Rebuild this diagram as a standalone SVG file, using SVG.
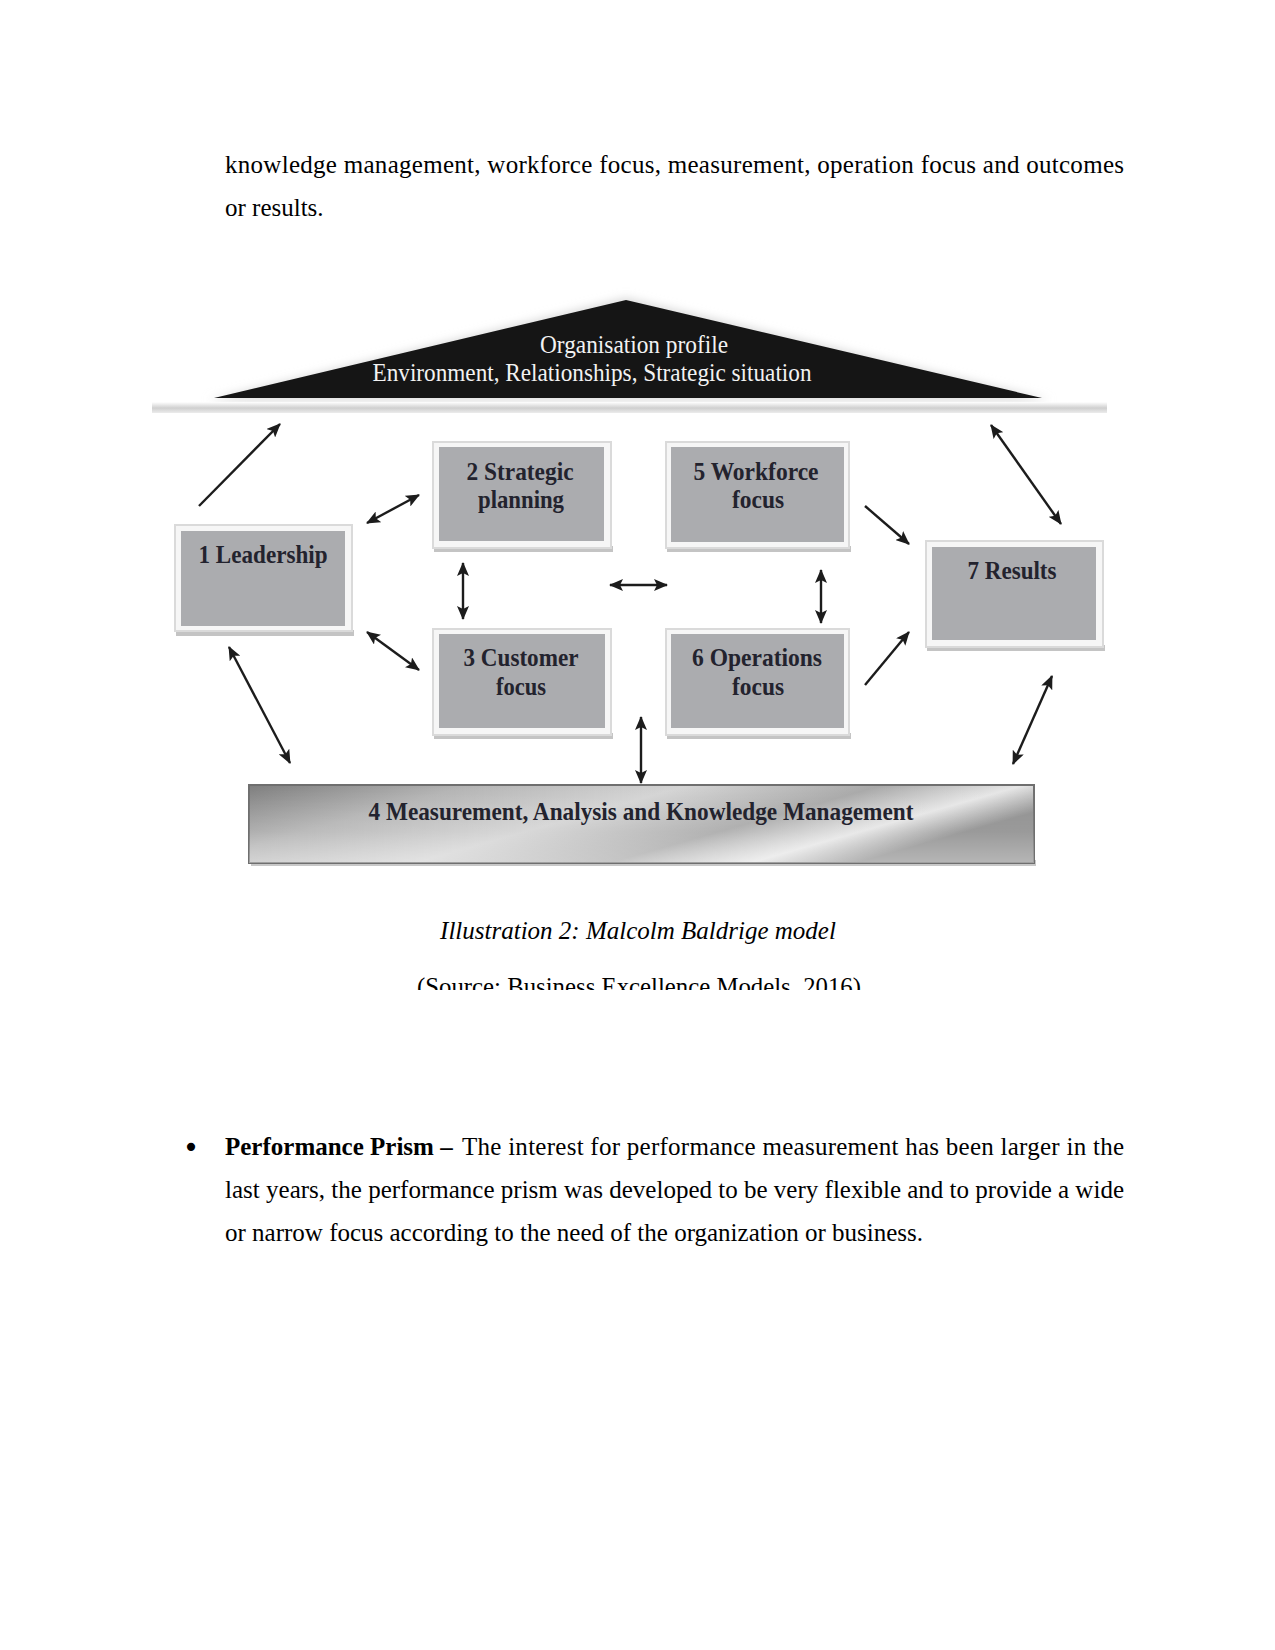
<svg xmlns="http://www.w3.org/2000/svg" width="1275" height="1650" viewBox="0 0 1275 1650">
<defs>
<style>
.body{font-family:"Liberation Serif","Times New Roman",serif;font-size:25px;fill:#000}
.lbl{font-family:"Liberation Serif","Times New Roman",serif;font-size:26px;font-weight:bold;fill:#23232e;text-anchor:middle}
.roof{font-family:"Liberation Serif","Times New Roman",serif;font-size:25px;fill:#f2f2f2;text-anchor:middle}
.frame{fill:#f6f6f6;stroke:#dadada;stroke-width:2}
.inner{fill:#abacaf}
.shadow{fill:#c4c4c4}
.conn line{stroke:#1c1c1c;stroke-width:2.4}
</style>
<marker id="ah" viewBox="0 0 14 12" refX="13" refY="6" markerWidth="14" markerHeight="12" markerUnits="userSpaceOnUse" orient="auto-start-reverse">
<path d="M0,0 L14,6 L0,12 L3,6 Z" fill="#1c1c1c"/>
</marker>
<linearGradient id="barg" x1="0" y1="0" x2="1" y2="0.35">
<stop offset="0" stop-color="#7e7e7e"/>
<stop offset="0.25" stop-color="#b4b4b4"/>
<stop offset="0.5" stop-color="#d4d4d4"/>
<stop offset="0.72" stop-color="#a9a9a9"/>
<stop offset="0.88" stop-color="#e6e6e6"/>
<stop offset="1" stop-color="#8f8f8f"/>
</linearGradient>
<linearGradient id="barv" x1="0" y1="0" x2="0" y2="1">
<stop offset="0" stop-color="#ffffff" stop-opacity="0"/>
<stop offset="0.6" stop-color="#ffffff" stop-opacity="0.1"/>
<stop offset="1" stop-color="#ffffff" stop-opacity="0.35"/>
</linearGradient>
<linearGradient id="ground" x1="0" y1="0" x2="0" y2="1">
<stop offset="0" stop-color="#ffffff"/>
<stop offset="0.55" stop-color="#cfcfcf"/>
<stop offset="1" stop-color="#ececec"/>
</linearGradient>
<filter id="blur" x="-10%" y="-30%" width="120%" height="160%">
<feGaussianBlur stdDeviation="5"/>
</filter>
<clipPath id="srcclip"><rect x="0" y="960" width="1275" height="30"/></clipPath>
</defs>
<rect width="1275" height="1650" fill="#ffffff"/>

<text class="body" x="225" y="173" textLength="899" lengthAdjust="spacing">knowledge management, workforce focus, measurement, operation focus and outcomes</text>
<text class="body" x="225" y="216">or results.</text>

<g id="organisation-profile">
<path d="M626,298 L208,400 L1050,400 Z" fill="#d8d8d8" filter="url(#blur)"/>
<rect x="152" y="402" width="955" height="11" fill="url(#ground)"/>
<path d="M626,300 L214,398 L1042,398 Z" fill="#151515"/>
<text class="roof" x="634" y="353" textLength="188" lengthAdjust="spacingAndGlyphs">Organisation profile</text>
<text class="roof" x="592" y="381" textLength="439" lengthAdjust="spacingAndGlyphs">Environment, Relationships, Strategic situation</text>
</g>

<g id="node-1-leadership">
<rect class="shadow" x="176" y="630" width="178" height="6"/>
<rect class="frame" x="175" y="525" width="177" height="106"/>
<rect class="inner" x="181" y="531" width="164" height="95"/>
<text class="lbl" x="263" y="563" textLength="129" lengthAdjust="spacingAndGlyphs">1 Leadership</text>
</g>

<g id="node-2-strategic-planning">
<rect class="shadow" x="434" y="546" width="179" height="6"/>
<rect class="frame" x="433" y="442" width="178" height="106"/>
<rect class="inner" x="439" y="447" width="165" height="94"/>
<text class="lbl" x="520" y="480" textLength="107" lengthAdjust="spacingAndGlyphs">2 Strategic</text>
<text class="lbl" x="521" y="508" textLength="86" lengthAdjust="spacingAndGlyphs">planning</text>
</g>

<g id="node-5-workforce-focus">
<rect class="shadow" x="667" y="546" width="184" height="6"/>
<rect class="frame" x="666" y="442" width="183" height="106"/>
<rect class="inner" x="671" y="447" width="173" height="95"/>
<text class="lbl" x="756" y="480" textLength="125" lengthAdjust="spacingAndGlyphs">5 Workforce</text>
<text class="lbl" x="758" y="508" textLength="52" lengthAdjust="spacingAndGlyphs">focus</text>
</g>

<g id="node-3-customer-focus">
<rect class="shadow" x="434" y="733" width="179" height="6"/>
<rect class="frame" x="433" y="629" width="178" height="106"/>
<rect class="inner" x="439" y="634" width="166" height="94"/>
<text class="lbl" x="521" y="666" textLength="115" lengthAdjust="spacingAndGlyphs">3 Customer</text>
<text class="lbl" x="521" y="695" textLength="50" lengthAdjust="spacingAndGlyphs">focus</text>
</g>

<g id="node-6-operations-focus">
<rect class="shadow" x="667" y="733" width="184" height="6"/>
<rect class="frame" x="666" y="629" width="183" height="106"/>
<rect class="inner" x="671" y="634" width="173" height="94"/>
<text class="lbl" x="757" y="666" textLength="130" lengthAdjust="spacingAndGlyphs">6 Operations</text>
<text class="lbl" x="758" y="695" textLength="52" lengthAdjust="spacingAndGlyphs">focus</text>
</g>

<g id="node-7-results">
<rect class="shadow" x="927" y="645" width="178" height="6"/>
<rect class="frame" x="926" y="541" width="177" height="106"/>
<rect class="inner" x="932" y="547" width="164" height="93"/>
<text class="lbl" x="1012" y="579" textLength="89" lengthAdjust="spacingAndGlyphs">7 Results</text>
</g>

<g id="node-4-measurement">
<rect x="251" y="860" width="785" height="6" fill="#c8c8c8"/>
<rect x="249" y="785" width="785" height="78" fill="url(#barg)" stroke="#6f6f6f" stroke-width="2"/>
<rect x="249" y="785" width="785" height="78" fill="url(#barv)"/>
<text class="lbl" x="641" y="820" textLength="545" lengthAdjust="spacingAndGlyphs">4 Measurement, Analysis and Knowledge Management</text>
</g>

<g id="connectors" class="conn">
<line x1="199" y1="506" x2="280" y2="424" marker-end="url(#ah)"/>
<line x1="367" y1="523" x2="419" y2="495" marker-start="url(#ah)" marker-end="url(#ah)"/>
<line x1="463" y1="563" x2="463" y2="619" marker-start="url(#ah)" marker-end="url(#ah)"/>
<line x1="610" y1="585" x2="667" y2="585" marker-start="url(#ah)" marker-end="url(#ah)"/>
<line x1="821" y1="570" x2="821" y2="623" marker-start="url(#ah)" marker-end="url(#ah)"/>
<line x1="367" y1="632" x2="419" y2="670" marker-start="url(#ah)" marker-end="url(#ah)"/>
<line x1="229" y1="647" x2="290" y2="763" marker-start="url(#ah)" marker-end="url(#ah)"/>
<line x1="641" y1="717" x2="641" y2="783" marker-start="url(#ah)" marker-end="url(#ah)"/>
<line x1="865" y1="506" x2="909" y2="544" marker-end="url(#ah)"/>
<line x1="865" y1="685" x2="909" y2="632" marker-end="url(#ah)"/>
<line x1="991" y1="425" x2="1061" y2="524" marker-start="url(#ah)" marker-end="url(#ah)"/>
<line x1="1052" y1="676" x2="1013" y2="764" marker-start="url(#ah)" marker-end="url(#ah)"/>
</g>

<text class="body" x="638" y="939" text-anchor="middle" font-style="italic">Illustration 2: Malcolm Baldrige model</text>
<g clip-path="url(#srcclip)">
<text class="body" x="417" y="995" textLength="444" lengthAdjust="spacingAndGlyphs">(Source: Business Excellence Models, 2016)</text>
</g>

<text x="191" y="1157" font-family="DejaVu Sans, sans-serif" font-size="28" text-anchor="middle" fill="#000">•</text>
<text class="body" x="225" y="1155" font-weight="bold">Performance Prism –</text>
<text class="body" x="462" y="1155" textLength="662" lengthAdjust="spacing">The interest for performance measurement has been larger in the</text>
<text class="body" x="225" y="1198" textLength="899" lengthAdjust="spacing">last years, the performance prism was developed to be very flexible and to provide a wide</text>
<text class="body" x="225" y="1241">or narrow focus according to the need of the organization or business.</text>
</svg>
